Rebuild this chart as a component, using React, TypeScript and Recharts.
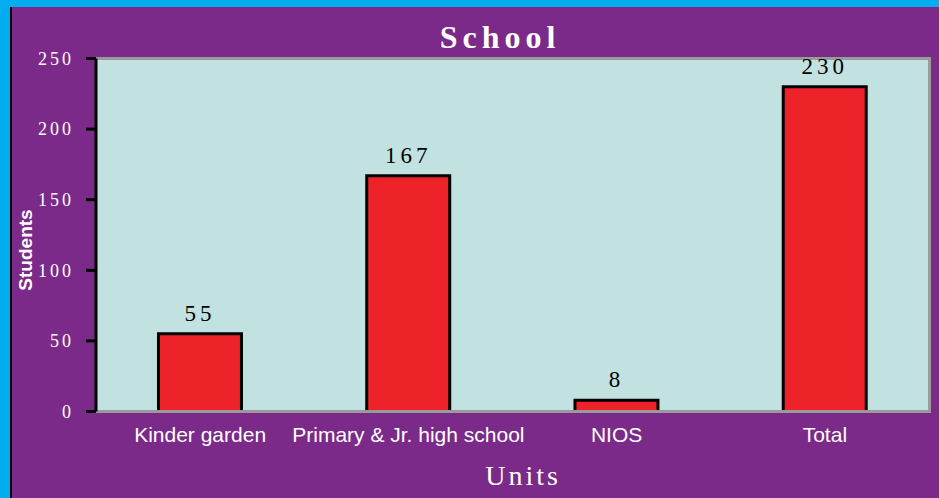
import { Bar, BarChart, LabelList, XAxis, YAxis } from 'recharts';

const UNITS = ['Kinder garden', 'Primary & Jr. high school', 'NIOS', 'Total'];
const STUDENTS = [55, 167, 8, 230];
const Y_TICKS = [0, 50, 100, 150, 200, 250];

const BORDER_BLUE = '#00aeef';
const PANEL_PURPLE = '#7b2a89';
const PLOT_FILL = '#c2e2e1';
const BAR_RED = '#ee2229';
const FRAME_GRAY = '#9a9a9a';
const SERIF = '"Liberation Serif", "Times New Roman", serif';
const SANS = '"Liberation Sans", Arial, sans-serif';

const data = UNITS.map((name, i) => ({ name, students: STUDENTS[i] }));

export default function App() {
  return (
    <div style={{ position: 'relative', width: 939, height: 498, background: BORDER_BLUE, overflow: 'hidden' }}>
      <style>{'body{margin:0}'}</style>
      {/* purple panel with the thin black edge on its left */}
      <div
        style={{
          position: 'absolute',
          left: 10,
          top: 7,
          width: 929,
          height: 491,
          background: PANEL_PURPLE,
          borderLeft: '2px solid #000',
          boxSizing: 'border-box',
        }}
      />
      {/* plot area background and its gray frame */}
      <div
        style={{
          position: 'absolute',
          left: 96,
          top: 57,
          width: 835,
          height: 356,
          background: PLOT_FILL,
          borderTop: `3px solid ${FRAME_GRAY}`,
          borderRight: `3px solid ${FRAME_GRAY}`,
          boxSizing: 'border-box',
        }}
      />
      <div style={{ position: 'absolute', left: 0, top: 0 }}>
        <BarChart
          width={939}
          height={498}
          data={data}
          margin={{ top: 58.5, right: 10, bottom: 46.5, left: 6 }}
          barCategoryGap="30%"
        >
          <XAxis
            dataKey="name"
            height={40}
            axisLine={{ stroke: FRAME_GRAY, strokeWidth: 3 }}
            tickLine={false}
            tickSize={0}
            tickMargin={16}
            tick={{ fill: '#fff', fontSize: 21, fontFamily: SANS }}
            interval={0}
          />
          <YAxis
            width={90}
            domain={[0, 250]}
            ticks={Y_TICKS}
            axisLine={{ stroke: '#000', strokeWidth: 3 }}
            tickLine={{ stroke: '#000', strokeWidth: 3 }}
            tickSize={10}
            tickMargin={12}
            tick={{ fill: '#fff', fontSize: 18, fontFamily: SERIF, letterSpacing: 3 }}
          />
          <Bar
            dataKey="students"
            fill={BAR_RED}
            stroke="#000"
            strokeWidth={3}
            isAnimationActive={false}
          >
            <LabelList
              dataKey="students"
              position="top"
              offset={13}
              fill="#000"
              fontSize={23}
              fontFamily={SERIF}
              letterSpacing={4}
            />
          </Bar>
        </BarChart>
      </div>
      <svg width={939} height={498} style={{ position: 'absolute', left: 0, top: 0, pointerEvents: 'none' }}>
        <text
          x={500}
          y={48}
          textAnchor="middle"
          fill="#fff"
          fontFamily={SERIF}
          fontWeight="bold"
          fontSize={32}
          letterSpacing={5}
        >
          School
        </text>
        <text x={523} y={485} textAnchor="middle" fill="#fff" fontFamily={SERIF} fontSize={28} letterSpacing={3}>
          Units
        </text>
        <text
          x={32}
          y={250}
          textAnchor="middle"
          fill="#fff"
          fontFamily={SANS}
          fontWeight="bold"
          fontSize={19}
          transform="rotate(-90, 32, 250)"
        >
          Students
        </text>
      </svg>
    </div>
  );
}
